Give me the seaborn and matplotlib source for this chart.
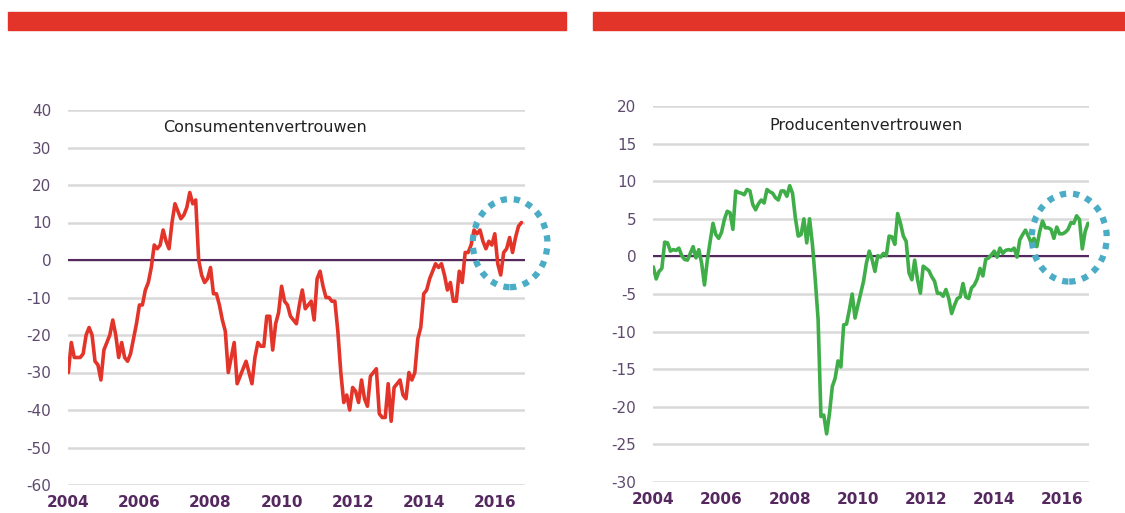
import numpy as np
import pandas as pd
import matplotlib
matplotlib.use("Agg")
import matplotlib.pyplot as plt
import seaborn as sns
from matplotlib.patches import Ellipse, Rectangle

# monthly data, Jan 2004 - Oct 2016
months = pd.date_range("2004-01-01", periods=154, freq="MS")

consument = [
    -30, -22, -26, -26, -26, -25, -20, -18, -20, -27, -28, -32,
    -24, -22, -20, -16, -20, -26, -22, -26, -27, -25, -21, -17,
    -12, -12, -8, -6, -2, 4, 3, 4, 8, 5, 3, 10,
    15, 13, 11, 12, 14, 18, 15, 16, 0, -4, -6, -5,
    -2, -9, -9, -12, -16, -19, -30, -26, -22, -33, -31, -29,
    -27, -30, -33, -26, -22, -23, -23, -15, -15, -24, -17, -14,
    -7, -11, -12, -15, -16, -17, -12, -8, -13, -12, -11, -16,
    -5, -3, -7, -10, -10, -11, -11, -19, -30, -38, -36, -40,
    -34, -35, -38, -32, -37, -39, -31, -30, -29, -41, -42, -42,
    -33, -43, -34, -33, -32, -36, -37, -30, -32, -30, -21, -18,
    -9, -8, -5, -3, -1, -2, -1, -4, -8, -6, -11, -11,
    -3, -6, 2, 2, 4, 8, 7, 8, 5, 3, 5, 4,
    7, -1, -4, 2, 3, 6, 2, 6, 9, 10,
]

producent = [
    -1.4, -3.0, -2.0, -1.6, 1.9, 1.8, 0.7, 0.9, 0.8, 1.1, 0.1, -0.4,
    -0.5, 0.4, 1.3, -0.2, 0.9, -0.9, -3.8, -0.5, 2.0, 4.4, 2.9, 2.4,
    3.2, 4.9, 6.0, 5.8, 3.6, 8.7, 8.5, 8.4, 8.2, 8.9, 8.7, 6.9,
    6.2, 7.0, 7.5, 7.1, 8.9, 8.6, 8.4, 7.8, 7.5, 8.7, 8.7, 8.0,
    9.4, 8.4, 5.1, 2.7, 2.9, 5.0, 1.8, 5.0, 1.6, -3.1, -8.4, -21.3,
    -21.1, -23.6, -20.9, -17.3, -16.2, -13.9, -14.7, -9.1, -9.0, -7.1, -5.0, -8.2,
    -6.5, -4.9, -3.3, -0.9, 0.7, -0.4, -2.0, 0.1, -0.1, 0.4, 0.1, 2.7,
    2.6, 1.6, 5.7, 4.4, 2.7, 2.0, -2.2, -3.1, -0.5, -3.1, -4.9, -1.3,
    -1.6, -1.9, -2.7, -3.3, -4.9, -4.9, -5.3, -4.4, -5.6, -7.6, -6.5, -5.6,
    -5.4, -3.6, -5.4, -5.6, -4.2, -3.8, -3.0, -1.6, -2.6, -0.4, -0.2, 0.2,
    0.7, -0.1, 1.1, 0.4, 0.8, 0.9, 0.8, 1.1, -0.1, 2.2, 2.9, 3.5,
    2.7, 1.8, 2.4, 1.3, 3.3, 4.7, 3.8, 3.8, 3.6, 2.4, 3.9, 3.0,
    3.0, 3.2, 3.6, 4.5, 4.4, 5.4, 4.9, 1.0, 3.3, 4.4,
]

year_ticks = [2004, 2006, 2008, 2010, 2012, 2014, 2016]
cons_yticks = [40, 30, 20, 10, 0, -10, -20, -30, -40, -50, -60]
prod_yticks = [20, 15, 10, 5, 0, -5, -10, -15, -20, -25, -30]

df = pd.DataFrame({
    "t": months.year + (months.month - 1) / 12.0,
    "consument": consument,
    "producent": producent,
})

RED = "#E3342A"
GREEN = "#3FAE49"
PURPLE = "#55285F"
GRID = "#D9D9D9"
CIRCLE = "#4BACC6"

sns.set_theme(style="white")
plt.rcParams["font.family"] = ["DejaVu Sans"]

fig = plt.figure(figsize=(11.25, 5.13), dpi=100)

# red header bars
fig.patches.append(Rectangle((8 / 1125, 1 - 30 / 513), 558 / 1125, 18 / 513,
                             transform=fig.transFigure, color=RED, zorder=0))
fig.patches.append(Rectangle((593 / 1125, 1 - 30 / 513), 532 / 1125, 18 / 513,
                             transform=fig.transFigure, color=RED, zorder=0))

ax1 = fig.add_axes([68 / 1125, 1 - 485 / 513, 457 / 1125, 375 / 513])
ax2 = fig.add_axes([653 / 1125, 1 - 482 / 513, 436 / 1125, 376 / 513])


def ax_settings(ax, yticks, xmax, title, tx, ty):
    ax.set_ylim(min(yticks), max(yticks))
    ax.set_yticks(yticks)
    ax.set_xlim(2003.99, xmax)
    ax.set_xticks(year_ticks)
    ax.set_xticklabels([str(y) for y in year_ticks], fontsize=11,
                       fontweight="bold", color=PURPLE)
    ax.set_yticklabels([str(y) for y in yticks], fontsize=11, color="#5E4A6E")
    ax.tick_params(axis="y", length=0, pad=12)
    ax.tick_params(axis="x", length=0, pad=7)
    for s in ax.spines.values():
        s.set_visible(False)
    ax.grid(axis="y", color=GRID, linewidth=1.8, zorder=0)
    ax.grid(axis="x", visible=False)
    ax.set_axisbelow(True)
    ax.axhline(0, color=PURPLE, linewidth=1.5, zorder=2)
    ax.set_xlabel("")
    ax.set_ylabel("")
    ax.text(tx, ty, title, transform=ax.transAxes, ha="center", va="center",
            fontsize=11.5, color="#222222")


sns.lineplot(data=df, x="t", y="consument", color=RED, linewidth=2.6,
             ax=ax1, zorder=3)
sns.lineplot(data=df, x="t", y="producent", color=GREEN, linewidth=2.6,
             ax=ax2, zorder=3)

ax_settings(ax1, cons_yticks, 2016.85, "Consumentenvertrouwen", 0.431, 0.952)
ax_settings(ax2, prod_yticks, 2016.78, "Producentenvertrouwen", 0.489, 0.949)

# dotted highlight circles
ax1.add_patch(Ellipse((2016.43, 4.5), 2.1, 23.5, fill=False, edgecolor=CIRCLE,
                      linewidth=4.5, linestyle=(0, (1, 1.1)), clip_on=False,
                      zorder=4))
ax2.add_patch(Ellipse((2016.2, 2.5), 2.2, 11.7, fill=False, edgecolor=CIRCLE,
                      linewidth=4.5, linestyle=(0, (1, 1.1)), clip_on=False,
                      zorder=4))

fig.savefig("out.png", dpi=100, facecolor="white")
